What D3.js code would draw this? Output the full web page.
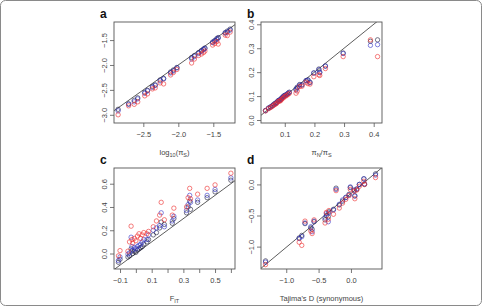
<!DOCTYPE html>
<html>
<head>
<meta charset="utf-8">
<script src="https://cdn.jsdelivr.net/npm/d3@7"></script>
<style>
  body { margin: 0; background: #fff; }
  svg text { font-family: "Liberation Sans", Arial, sans-serif; }
</style>
</head>
<body>
<div id="chart"></div>
<script>
// panel a : log10(piS)
const aX     = [-2.86,-2.71,-2.63,-2.58,-2.48,-2.44,-2.37,-2.33,-2.26,-2.21,-2.11,-2.07,-2.02,-1.81,-1.77,-1.71,-1.67,-1.64,-1.62,-1.51,-1.48,-1.45,-1.43,-1.33,-1.30,-1.26];
const aBlack = [-2.89,-2.78,-2.71,-2.66,-2.55,-2.51,-2.43,-2.40,-2.30,-2.27,-2.14,-2.10,-2.05,-1.85,-1.81,-1.75,-1.71,-1.68,-1.66,-1.54,-1.51,-1.47,-1.45,-1.35,-1.32,-1.28];
const aBlue  = [-2.92,-2.79,-2.74,-2.68,-2.57,-2.52,-2.45,-2.41,-2.32,-2.28,-2.16,-2.12,-2.06,-1.88,-1.83,-1.77,-1.73,-1.69,-1.67,-1.55,-1.52,-1.49,-1.46,-1.36,-1.34,-1.30];
const aRed   = [-3.00,-2.82,-2.79,-2.74,-2.62,-2.58,-2.48,-2.46,-2.36,-2.38,-2.20,-2.15,-2.09,-1.96,-1.88,-1.81,-1.78,-1.75,-1.72,-1.60,-1.57,-1.53,-1.58,-1.40,-1.41,-1.34];

// panel b : piN/piS
const bX     = [0.035,0.045,0.052,0.058,0.063,0.068,0.072,0.077,0.081,0.085,0.088,0.092,0.096,0.100,0.105,0.110,0.115,0.138,0.142,0.150,0.158,0.172,0.178,0.185,0.198,0.215,0.218,0.237,0.297,0.389,0.413];
const bBlack = [0.040,0.050,0.055,0.060,0.066,0.070,0.073,0.080,0.083,0.085,0.090,0.095,0.100,0.103,0.106,0.111,0.116,0.130,0.137,0.148,0.147,0.165,0.168,0.158,0.197,0.213,0.200,0.226,0.280,0.329,0.335];
const bBlue  = [0.039,0.049,0.054,0.059,0.064,0.068,0.072,0.079,0.082,0.084,0.089,0.094,0.098,0.102,0.105,0.110,0.115,0.125,0.135,0.146,0.146,0.164,0.166,0.156,0.196,0.210,0.198,0.225,0.278,0.312,0.315];
const bRed   = [0.038,0.047,0.052,0.057,0.062,0.066,0.069,0.076,0.079,0.080,0.084,0.090,0.093,0.099,0.101,0.106,0.111,0.112,0.121,0.140,0.141,0.158,0.152,0.150,0.181,0.189,0.186,0.215,0.265,0.335,0.265];

// panel c : F_IT
const cX     = [-0.11,-0.10,-0.05,-0.04,-0.03,-0.025,-0.02,-0.01,0.00,0.01,0.02,0.03,0.04,0.05,0.07,0.08,0.11,0.13,0.15,0.16,0.18,0.23,0.24,0.32,0.33,0.34,0.345,0.39,0.45,0.50,0.60];
const cBlack = [-0.075,-0.05,-0.03,-0.02,0.04,0.02,0.00,0.02,0.01,0.03,0.04,0.05,0.06,0.08,0.10,0.12,0.16,0.18,0.22,0.27,0.25,0.26,0.30,0.35,0.40,0.45,0.38,0.44,0.48,0.53,0.63];
const cBlue  = [-0.06,-0.03,-0.005,0.005,0.14,0.06,0.03,0.05,0.04,0.06,0.07,0.08,0.10,0.12,0.12,0.16,0.20,0.22,0.24,0.35,0.23,0.28,0.32,0.37,0.42,0.50,0.44,0.46,0.50,0.55,0.65];
const cRed   = [-0.02,0.025,0.02,0.10,0.235,0.12,0.09,0.13,0.11,0.15,0.17,0.13,0.16,0.18,0.17,0.19,0.23,0.28,0.33,0.44,0.29,0.33,0.39,0.40,0.48,0.56,0.47,0.51,0.56,0.59,0.69];

// panel d : Tajima's D
const dX     = [-1.32,-0.80,-0.76,-0.71,-0.62,-0.60,-0.57,-0.40,-0.38,-0.35,-0.34,-0.27,-0.23,-0.18,-0.13,-0.08,-0.03,-0.01,0.05,0.06,0.09,0.13,0.20,0.21,0.38];
const dBlack = [-1.23,-0.86,-0.82,-0.63,-0.70,-0.72,-0.60,-0.57,-0.50,-0.52,-0.44,-0.40,-0.06,-0.33,-0.27,-0.21,-0.16,-0.05,-0.09,-0.18,-0.08,0.00,0.09,0.00,0.17];
const dBlue  = [-1.25,-0.87,-0.84,-0.62,-0.68,-0.76,-0.59,-0.54,-0.47,-0.60,-0.46,-0.41,-0.08,-0.32,-0.25,-0.21,-0.17,-0.04,-0.10,-0.19,-0.07,0.00,0.09,0.01,0.15];
const dRed   = [-1.29,-0.93,-0.98,-0.59,-0.75,-0.79,-0.57,-0.62,-0.45,-0.56,-0.42,-0.48,-0.10,-0.38,-0.30,-0.24,-0.18,-0.08,-0.11,-0.23,-0.09,-0.03,0.05,0.00,0.11];

// reference line per panel: [intercept, slope]
const aLine = [0, 1];
const bLine = [0, 1];
const cLine = [0, 1];
const dLine = [-0.1455, 0.8657];

// tick values
const aXTicks = [-2.5, -2.0, -1.5];
const aYTicks = [-3.0, -2.5, -2.0, -1.5];
const bXTicks = [0.1, 0.2, 0.3, 0.4];
const bYTicks = [0.0, 0.1, 0.2, 0.3, 0.4];
const cXTicks = [-0.1, 0.0, 0.1, 0.2, 0.3, 0.4, 0.5, 0.6];
const cXLabelled = [-0.1, 0.1, 0.3, 0.5];
const cYTicks = [0.0, 0.2, 0.4, 0.6];
const dXTicks = [-1.0, -0.5, 0.0];
const dYTicks = [-1.0, -0.5, 0.0];

const width = 482, height = 306;
const colors = { black: "#1c1c3a", blue: "#3434c8", red: "#ee2a2a" };

const svg = d3.select("#chart").append("svg")
    .attr("width", width)
    .attr("height", height);

// outer frame
svg.append("rect")
    .attr("x", 0.5).attr("y", 0.5)
    .attr("width", width - 1).attr("height", height - 1)
    .attr("rx", 5)
    .attr("fill", "#fff")
    .attr("stroke", "#8a8a8a")
    .attr("stroke-width", 1);

function drawPanel(p) {
    const w = p.box[2] - p.box[0], h = p.box[3] - p.box[1];
    const g = svg.append("g").attr("transform", `translate(${p.box[0]}, ${p.box[1]})`);

    const xScale = d3.scaleLinear().domain(p.xDomain).range([0, w]);
    const yScale = d3.scaleLinear().domain(p.yDomain).range([h, 0]);

    const fmt = d3.format(".1f");
    const minus = v => fmt(v).replace("-", "\u2212");

    // x axis
    const xAx = g.append("g")
        .attr("transform", `translate(0, ${h})`)
        .call(d3.axisBottom(xScale).tickValues(p.xTicks).tickSize(4).tickPadding(5)
            .tickFormat(v => (p.xLabelled && !p.xLabelled.includes(v)) ? "" : minus(v)));
    // y axis
    const yAx = g.append("g")
        .call(d3.axisLeft(yScale).tickValues(p.yTicks).tickSize(4).tickFormat(minus));

    [xAx, yAx].forEach(ax => {
        ax.select(".domain").remove();
        ax.selectAll("line").attr("stroke", "#555").attr("stroke-width", 0.8);
        ax.selectAll("text").attr("fill", "#444").style("font-size", "7.5px");
    });
    yAx.selectAll("text")
        .attr("transform", "rotate(-90)")
        .attr("x", 0).attr("y", -7.5).attr("dy", 0)
        .style("text-anchor", "middle");

    // clip for marks
    const clipId = "clip-" + p.name;
    g.append("clipPath").attr("id", clipId)
        .append("rect").attr("width", w).attr("height", h);

    // reference line
    const [x0, x1] = p.xDomain;
    const lineY = x => p.line[0] + p.line[1] * x;
    g.append("line")
        .attr("clip-path", `url(#${clipId})`)
        .attr("x1", xScale(x0)).attr("y1", yScale(lineY(x0)))
        .attr("x2", xScale(x1)).attr("y2", yScale(lineY(x1)))
        .attr("stroke", "#333").attr("stroke-width", 0.8);

    // points
    [["black", p.black], ["blue", p.blue], ["red", p.red]].forEach(([key, ys]) => {
        g.append("g").selectAll("circle")
            .data(p.x.map((x, i) => ({ x: x, y: ys[i] })))
            .enter()
            .append("circle")
            .attr("cx", d => xScale(d.x))
            .attr("cy", d => yScale(d.y))
            .attr("r", 2.2)
            .attr("fill", "none")
            .attr("stroke", colors[key])
            .attr("stroke-opacity", 0.8)
            .attr("stroke-width", 0.75);
    });

    // box
    g.append("rect")
        .attr("width", w).attr("height", h)
        .attr("fill", "none")
        .attr("stroke", "#555")
        .attr("stroke-width", 0.9);

    // panel letter
    svg.append("text")
        .text(p.name)
        .attr("x", p.box[0] - 14)
        .attr("y", p.box[1] - 4)
        .style("font-size", "12px")
        .style("font-weight", 700)
        .attr("fill", "#111");

    // axis title
    const title = svg.append("text")
        .attr("x", p.box[0] + w / 2)
        .attr("y", p.box[3] + 32)
        .attr("fill", "#444")
        .style("font-size", "7.5px")
        .style("text-anchor", "middle");
    p.title(title);
}

drawPanel({
    name: "a", box: [114, 22, 235, 123],
    xDomain: [-2.919, -1.19], yDomain: [-3.165, -1.137],
    xTicks: aXTicks, yTicks: aYTicks, line: aLine,
    x: aX, black: aBlack, blue: aBlue, red: aRed,
    title: t => {
        t.append("tspan").text("log");
        t.append("tspan").text("10").attr("dy", 2).style("font-size", "5.5px");
        t.append("tspan").text("(\u03c0").attr("dy", -2);
        t.append("tspan").text("S").attr("dy", 2).style("font-size", "5.5px");
        t.append("tspan").text(")").attr("dy", -2);
    }
});

drawPanel({
    name: "b", box: [261, 22, 382, 123],
    xDomain: [0.0198, 0.428], yDomain: [-0.0125, 0.4096],
    xTicks: bXTicks, yTicks: bYTicks, line: bLine,
    x: bX, black: bBlack, blue: bBlue, red: bRed,
    title: t => {
        t.append("tspan").text("\u03c0");
        t.append("tspan").text("N").attr("dy", 2).style("font-size", "5.5px");
        t.append("tspan").text("/\u03c0").attr("dy", -2);
        t.append("tspan").text("S").attr("dy", 2).style("font-size", "5.5px");
    }
});

drawPanel({
    name: "c", box: [114, 168, 235, 269],
    xDomain: [-0.138, 0.626], yDomain: [-0.133, 0.735],
    xTicks: cXTicks, xLabelled: cXLabelled, yTicks: cYTicks, line: cLine,
    x: cX, black: cBlack, blue: cBlue, red: cRed,
    title: t => {
        t.append("tspan").text("F");
        t.append("tspan").text("IT").attr("dy", 2).style("font-size", "5.5px");
    }
});

drawPanel({
    name: "d", box: [261, 168, 382, 269],
    xDomain: [-1.39, 0.48], yDomain: [-1.36, 0.264],
    xTicks: dXTicks, yTicks: dYTicks, line: dLine,
    x: dX, black: dBlack, blue: dBlue, red: dRed,
    title: t => t.text("Tajima's D (synonymous)")
});
</script>
</body>
</html>
